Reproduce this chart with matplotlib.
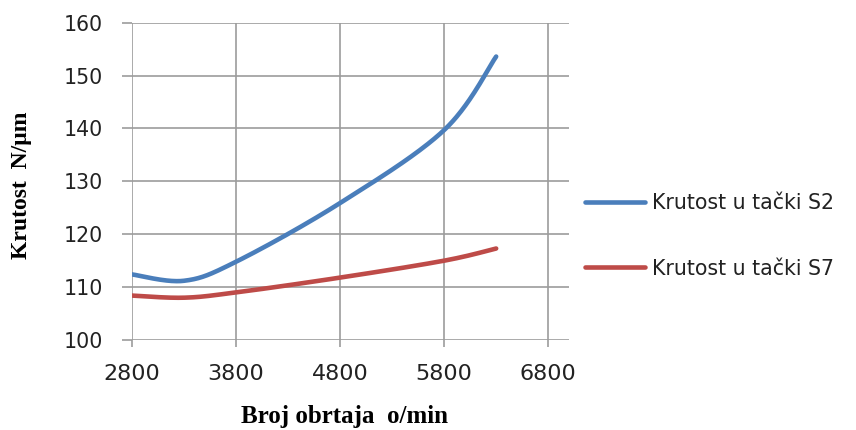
import numpy as np
import matplotlib
matplotlib.use("Agg")
import matplotlib.pyplot as plt

# ---- data ----
rpm = [2800, 3300, 3800, 4800, 5800, 6300]
s2 = [112.4, 111.2, 114.8, 125.9, 139.7, 153.6]
s7 = [108.4, 108.0, 109.0, 111.8, 115.0, 117.3]
series_names = ["Krutost u tački S2", "Krutost u tački S7"]
x_ticks = [2800, 3800, 4800, 5800, 6800]
y_ticks = [100, 110, 120, 130, 140, 150, 160]
x_label = "Broj obrtaja  o/min"
y_label = "Krutost  N/μm"


def smooth(xs, ys, n=60):
    """Bezier smoothing through data points (like a spreadsheet's smoothed line)."""
    xs = np.asarray(xs, float)
    ys = np.asarray(ys, float)
    P = np.column_stack([xs, ys])
    out = []
    for i in range(len(P) - 1):
        p0 = P[i - 1] if i > 0 else P[i]
        p1 = P[i]
        p2 = P[i + 1]
        p3 = P[i + 2] if i + 2 < len(P) else P[i + 1]
        c1 = p1 + (p2 - p0) / 6.0
        c2 = p2 - (p3 - p1) / 6.0
        t = np.linspace(0, 1, n)[:, None]
        seg = ((1 - t) ** 3) * p1 + 3 * ((1 - t) ** 2) * t * c1 + 3 * (1 - t) * t ** 2 * c2 + t ** 3 * p2
        out.append(seg if i == 0 else seg[1:])
    c = np.vstack(out)
    return c[:, 0], c[:, 1]


W, H = 856, 430
fig = plt.figure(figsize=(W / 100, H / 100), dpi=100)
ax = fig.add_axes([132 / W, 1 - 340 / H, (569 - 132) / W, (340 - 22.7) / H])

grid_c = "#9c9c9c"
blue = "#4A7EBB"
red = "#BE4B48"

sx, sy = smooth(rpm, s2)
ax.plot(sx, sy, color=blue, lw=3.3, solid_capstyle="round", label=series_names[0], zorder=3)
sx, sy = smooth(rpm, s7)
ax.plot(sx, sy, color=red, lw=3.3, solid_capstyle="round", label=series_names[1], zorder=3)

ax.set_xlim(2800, 7000)
ax.set_ylim(100, 160)
ax.set_xticks(x_ticks)
ax.set_yticks(y_ticks)
ax.grid(True, color=grid_c, lw=1.2, zorder=0)
for s in ax.spines.values():
    s.set_visible(False)
ax.tick_params(axis="y", direction="out", length=7.2, width=1.2, color=grid_c,
               pad=13.5, labelsize=14.8, labelcolor="#222222")
ax.tick_params(axis="x", direction="out", length=5.0, width=1.2, color=grid_c,
               pad=12.5, labelsize=16, labelcolor="#222222")

fig.text(22 / W, 1 - 185.5 / H, y_label, rotation=90, ha="center", va="center",
         family="Liberation Serif", weight="bold", fontsize=17)
fig.text(344.7 / W, 1 - 423 / H, x_label, ha="center", va="baseline",
         family="Liberation Serif", weight="bold", fontsize=18)

leg = ax.legend(loc="center left", bbox_to_anchor=(585 / W, 1 - 236 / H),
                bbox_transform=fig.transFigure, frameon=False, fontsize=14.8,
                handlelength=2.9, handletextpad=0.35, labelspacing=2.2,
                borderpad=0, borderaxespad=0)
for t in leg.get_texts():
    t.set_color("#222222")

fig.savefig("out.png", dpi=100)
